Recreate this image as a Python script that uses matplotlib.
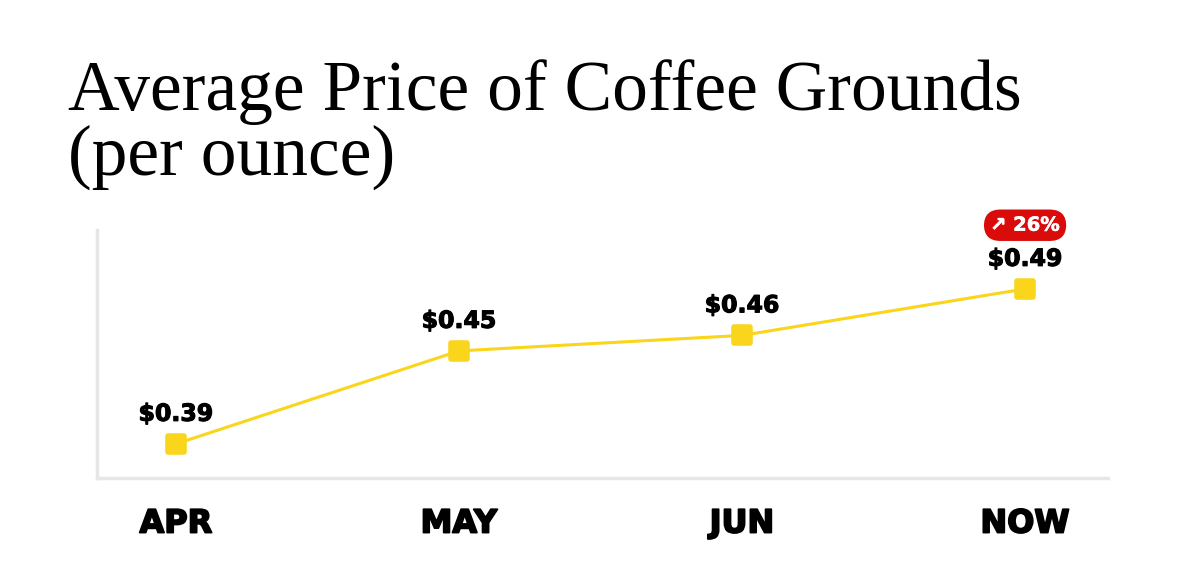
import matplotlib.pyplot as plt
import matplotlib.patheffects as pe
from matplotlib.markers import MarkerStyle

months = ["APR", "MAY", "JUN", "NOW"]
prices = [0.39, 0.45, 0.46, 0.49]
change_label = "\u2197 26%"
title_lines = ["Average Price of Coffee Grounds", "(per ounce)"]

YELLOW = "#F9D51C"
RED = "#D90B0B"
GRID = "#E6E6E6"


def heavy(color, w=1.0):
    return [pe.withStroke(linewidth=w, foreground=color)]


def main():
    fig = plt.figure(figsize=(12, 5.66), dpi=100)
    fig.patch.set_facecolor("white")

    ax = fig.add_axes([97 / 1200, 1 - 478 / 566, (1108 - 97) / 1200, (478 - 230) / 566])

    x = list(range(len(months)))
    ax.plot(
        x, prices,
        color=YELLOW, linewidth=2.2,
        marker=MarkerStyle("s", joinstyle="round"),
        markersize=11, markeredgewidth=4,
        markerfacecolor=YELLOW, markeredgecolor=YELLOW,
        solid_capstyle="round", zorder=3,
    )

    for xi, p in zip(x, prices):
        ax.annotate(
            f"${p:.2f}", (xi, p), xytext=(0, 13), textcoords="offset points",
            ha="center", va="bottom", fontsize=17, fontweight="bold",
            family="DejaVu Sans", color="black", path_effects=heavy("black", 0.8),
        )

    # change badge above the last point
    ax.annotate(
        change_label, (x[-1], prices[-1]), xytext=(0, 39), textcoords="offset points",
        ha="center", va="bottom", fontsize=14, fontweight="bold",
        family="DejaVu Sans", color="white", path_effects=heavy("white", 0.4),
        bbox=dict(boxstyle="round,pad=0.32,rounding_size=0.85", fc=RED, ec="none"),
    )

    ax.set_xlim(-0.279, 3.293)
    ax.set_ylim(0.368, 0.528)

    for side in ["top", "right"]:
        ax.spines[side].set_visible(False)
    for side in ["left", "bottom"]:
        ax.spines[side].set_color(GRID)
        ax.spines[side].set_linewidth(2.5)

    ax.set_yticks([])
    ax.set_xticks(x)
    ax.set_xticklabels(months, fontsize=23, fontweight="bold", family="DejaVu Sans")
    for lbl in ax.get_xticklabels():
        lbl.set_path_effects(heavy("black", 1.3))
    ax.tick_params(axis="x", length=0, pad=22)

    for i, line in enumerate(title_lines):
        fig.text(68 / 1200, 1 - (110 + 65 * i) / 566, line, fontsize=51.4,
                 family="Liberation Serif", ha="left", va="baseline")

    fig.savefig("out.png", dpi=100, facecolor="white")


if __name__ == "__main__":
    main()
